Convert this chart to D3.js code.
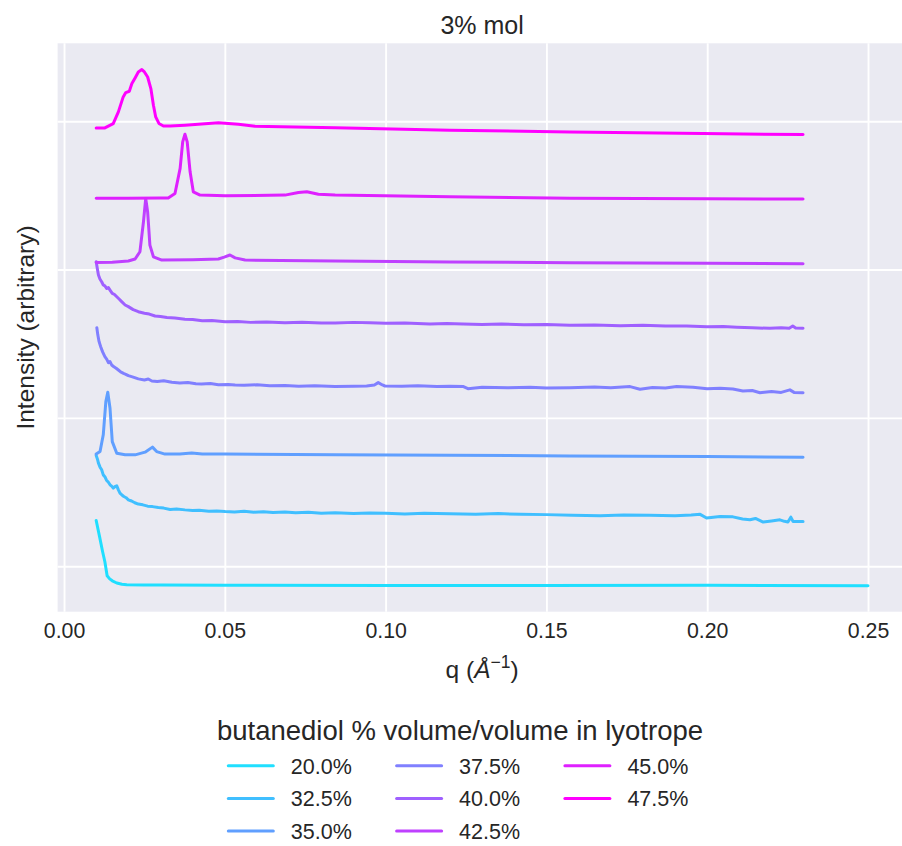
<!DOCTYPE html>
<html>
<head>
<meta charset="utf-8">
<script src="https://cdn.jsdelivr.net/npm/d3@7"></script>
<style>
  body { margin: 0; background: white; }
  text { font-family: "Liberation Sans", Arial, sans-serif; fill: #262626; }
</style>
</head>
<body>
<div id="container"></div>
<script>
let w = 902;
let h = 846;

// legend labels (butanediol % v/v)
let seriesLabels = ["20.0%", "32.5%", "35.0%", "37.5%", "40.0%", "42.5%", "45.0%", "47.5%"];
let xTicks = [0.00, 0.05, 0.10, 0.15, 0.20, 0.25];
let yTicks = [0, 1, 2, 3];

// [q, intensity (arbitrary, offset)]
let s200 = [[0.0100,0.308],[0.0110,0.205],[0.0120,0.098],[0.0127,0.030],[0.0134,-0.064],[0.0142,-0.085],[0.0150,-0.098],[0.0164,-0.113],[0.0180,-0.121],[0.0195,-0.125],[0.0250,-0.127],[0.0300,-0.127],[0.0500,-0.128],[0.1000,-0.129],[0.1500,-0.129],[0.2000,-0.128],[0.2500,-0.131]];

let s325 = [[0.0100,0.747],[0.0104,0.722],[0.0107,0.695],[0.0112,0.668],[0.0117,0.650],[0.0122,0.616],[0.0127,0.604],[0.0132,0.580],[0.0138,0.566],[0.0143,0.549],[0.0148,0.540],[0.0153,0.527],[0.0158,0.536],[0.0164,0.542],[0.0169,0.515],[0.0174,0.493],[0.0180,0.480],[0.0186,0.470],[0.0193,0.462],[0.0200,0.448],[0.0210,0.440],[0.0220,0.428],[0.0231,0.419],[0.0245,0.414],[0.0260,0.405],[0.0275,0.402],[0.0293,0.396],[0.0310,0.392],[0.0330,0.383],[0.0350,0.386],[0.0376,0.380],[0.0400,0.376],[0.0420,0.377],[0.0450,0.371],[0.0475,0.373],[0.0501,0.369],[0.0530,0.366],[0.0560,0.370],[0.0590,0.364],[0.0620,0.368],[0.0650,0.362],[0.0687,0.365],[0.0720,0.360],[0.0760,0.364],[0.0800,0.358],[0.0843,0.360],[0.0900,0.356],[0.0950,0.359],[0.1000,0.357],[0.1060,0.353],[0.1120,0.357],[0.1200,0.354],[0.1280,0.351],[0.1350,0.355],[0.1420,0.350],[0.1500,0.348],[0.1580,0.344],[0.1667,0.340],[0.1740,0.345],[0.1820,0.343],[0.1900,0.341],[0.1950,0.345],[0.1978,0.350],[0.1998,0.325],[0.2040,0.335],[0.2080,0.333],[0.2110,0.318],[0.2133,0.313],[0.2150,0.322],[0.2174,0.298],[0.2200,0.305],[0.2226,0.313],[0.2240,0.303],[0.2251,0.298],[0.2260,0.331],[0.2267,0.302],[0.2298,0.302]];

let s350 = [[0.0100,0.756],[0.0112,0.773],[0.0122,0.886],[0.0130,1.110],[0.0136,1.173],[0.0143,1.065],[0.0150,0.840],[0.0164,0.762],[0.0190,0.752],[0.0221,0.751],[0.0252,0.769],[0.0275,0.803],[0.0288,0.773],[0.0314,0.756],[0.0360,0.757],[0.0397,0.764],[0.0430,0.757],[0.0501,0.756],[0.0843,0.751],[0.1200,0.748],[0.1573,0.744],[0.2000,0.740],[0.2298,0.735]];

let s375 = [[0.0102,1.608],[0.0105,1.560],[0.0109,1.514],[0.0114,1.480],[0.0120,1.445],[0.0127,1.413],[0.0133,1.395],[0.0138,1.372],[0.0143,1.380],[0.0148,1.357],[0.0155,1.345],[0.0162,1.335],[0.0169,1.323],[0.0176,1.310],[0.0185,1.300],[0.0192,1.294],[0.0200,1.285],[0.0215,1.275],[0.0231,1.263],[0.0250,1.256],[0.0262,1.262],[0.0273,1.249],[0.0290,1.245],[0.0310,1.250],[0.0335,1.240],[0.0360,1.236],[0.0385,1.238],[0.0410,1.230],[0.0428,1.229],[0.0455,1.232],[0.0480,1.224],[0.0510,1.226],[0.0532,1.222],[0.0560,1.220],[0.0600,1.223],[0.0640,1.216],[0.0687,1.218],[0.0730,1.214],[0.0780,1.217],[0.0843,1.211],[0.0900,1.214],[0.0941,1.215],[0.0965,1.222],[0.0977,1.238],[0.0990,1.222],[0.0998,1.215],[0.1050,1.213],[0.1100,1.216],[0.1160,1.211],[0.1200,1.214],[0.1242,1.211],[0.1256,1.197],[0.1300,1.206],[0.1380,1.203],[0.1450,1.207],[0.1500,1.202],[0.1573,1.204],[0.1650,1.208],[0.1700,1.204],[0.1760,1.211],[0.1791,1.193],[0.1830,1.205],[0.1870,1.202],[0.1905,1.211],[0.1956,1.207],[0.2000,1.197],[0.2040,1.200],[0.2080,1.195],[0.2111,1.182],[0.2140,1.185],[0.2164,1.170],[0.2200,1.178],[0.2230,1.172],[0.2257,1.189],[0.2270,1.172],[0.2298,1.170]];

let s400 = [[0.0100,2.053],[0.0104,2.000],[0.0107,1.963],[0.0112,1.935],[0.0117,1.918],[0.0122,1.896],[0.0127,1.890],[0.0133,1.872],[0.0138,1.878],[0.0143,1.862],[0.0150,1.840],[0.0157,1.832],[0.0164,1.817],[0.0172,1.800],[0.0180,1.782],[0.0190,1.761],[0.0200,1.750],[0.0215,1.730],[0.0231,1.716],[0.0250,1.706],[0.0265,1.700],[0.0283,1.687],[0.0300,1.684],[0.0320,1.677],[0.0345,1.673],[0.0376,1.665],[0.0400,1.664],[0.0430,1.655],[0.0460,1.656],[0.0501,1.648],[0.0540,1.650],[0.0580,1.644],[0.0630,1.647],[0.0687,1.642],[0.0740,1.645],[0.0800,1.639],[0.0843,1.640],[0.0900,1.644],[0.0951,1.642],[0.1000,1.638],[0.1060,1.640],[0.1138,1.633],[0.1190,1.636],[0.1241,1.633],[0.1300,1.630],[0.1360,1.633],[0.1430,1.628],[0.1500,1.630],[0.1573,1.625],[0.1650,1.627],[0.1730,1.622],[0.1800,1.624],[0.1870,1.619],[0.1936,1.620],[0.2000,1.615],[0.2050,1.616],[0.2092,1.611],[0.2140,1.607],[0.2195,1.604],[0.2230,1.608],[0.2255,1.605],[0.2266,1.620],[0.2275,1.606],[0.2298,1.604]];

let s425 = [[0.0100,2.048],[0.0150,2.050],[0.0200,2.058],[0.0221,2.071],[0.0236,2.120],[0.0247,2.322],[0.0254,2.479],[0.0260,2.389],[0.0267,2.165],[0.0278,2.086],[0.0304,2.064],[0.0400,2.066],[0.0480,2.071],[0.0498,2.084],[0.0516,2.098],[0.0532,2.079],[0.0563,2.064],[0.0843,2.057],[0.1200,2.051],[0.1573,2.046],[0.2000,2.042],[0.2298,2.039]];

let s450 = [[0.0100,2.480],[0.0200,2.481],[0.0300,2.482],[0.0324,2.483],[0.0345,2.513],[0.0361,2.682],[0.0369,2.861],[0.0376,2.912],[0.0383,2.861],[0.0392,2.659],[0.0402,2.524],[0.0423,2.502],[0.0501,2.497],[0.0687,2.502],[0.0729,2.520],[0.0755,2.524],[0.0791,2.508],[0.0843,2.502],[0.1200,2.491],[0.1573,2.481],[0.2000,2.478],[0.2298,2.475]];

let s475 = [[0.0100,2.955],[0.0127,2.955],[0.0153,2.984],[0.0169,3.063],[0.0184,3.164],[0.0192,3.193],[0.0203,3.202],[0.0211,3.254],[0.0221,3.292],[0.0231,3.332],[0.0242,3.348],[0.0250,3.332],[0.0260,3.298],[0.0270,3.220],[0.0278,3.108],[0.0285,3.029],[0.0295,2.985],[0.0309,2.968],[0.0330,2.968],[0.0376,2.973],[0.0480,2.989],[0.0542,2.980],[0.0594,2.966],[0.0843,2.956],[0.1200,2.939],[0.1573,2.928],[0.1987,2.917],[0.2298,2.910]];

let allSeries = [s200, s325, s350, s375, s400, s425, s450, s475];

// matplotlib "cool" colormap sampled at (i+1)/8
function cool(t){
  return d3.rgb(255*t, 255*(1-t), 255).formatHex();
}

let viz = d3.select("#container")
  .append("svg")
    .attr("width", w)
    .attr("height", h)
    .style("background-color", "white")
;

let plotLeft = 57.6, plotRight = 906.6, plotTop = 43.3, plotBottom = 611.7;

let xScale = d3.scaleLinear().domain([-0.002, 0.262]).range([plotLeft, plotRight]);
let yScale = d3.scaleLinear().domain([-0.3064, 3.5253]).range([plotBottom, plotTop]);

viz.append("rect") // plot background
  .attr("x", plotLeft)
  .attr("y", plotTop)
  .attr("width", plotRight-plotLeft)
  .attr("height", plotBottom-plotTop)
  .attr("fill", "#EAEAF2")
;

// grid via axes, no domain line, white lines
let xAxis = d3.axisBottom(xScale).tickValues(xTicks).tickSize(-(plotBottom-plotTop)).tickFormat(d3.format(".2f")).tickPadding(11);
let yAxis = d3.axisLeft(yScale).tickValues(yTicks).tickSize(-(plotRight-plotLeft)).tickFormat("");

let gx = viz.append("g")
  .attr("transform", "translate(0,"+plotBottom+")")
  .call(xAxis);
let gy = viz.append("g")
  .attr("transform", "translate("+plotLeft+",0)")
  .call(yAxis);

[gx, gy].forEach(function(g){
  g.select(".domain").remove();
  g.selectAll(".tick line").attr("stroke", "white").attr("stroke-width", 1.9);
  g.selectAll(".tick text")
    .attr("fill", "#262626")
    .style("font-family", "'Liberation Sans', Arial, sans-serif")
    .attr("font-size", 21.3);
});

let clip = viz.append("clipPath").attr("id", "plotclip");
clip.append("rect").attr("x", plotLeft).attr("y", plotTop).attr("width", plotRight-plotLeft).attr("height", plotBottom-plotTop);

let line = d3.line()
  .x(function(d){ return xScale(d[0]); })
  .y(function(d){ return yScale(d[1]); });

viz.append("g")
  .attr("clip-path", "url(#plotclip)")
  .selectAll(".curve").data(allSeries).enter()
  .append("path")
    .attr("class", "curve")
    .attr("d", line)
    .attr("fill", "none")
    .attr("stroke", function(d, i){ return cool((i+1)/8); })
    .attr("stroke-width", 3)
    .attr("stroke-linejoin", "round")
    .attr("stroke-linecap", "round")
;

viz.append("text") // title
  .text("3% mol")
  .attr("x", (plotLeft+plotRight)/2)
  .attr("y", 34)
  .attr("text-anchor", "middle")
  .attr("font-size", 25)
;

let xlab = viz.append("text") // x label
  .attr("x", (plotLeft+plotRight)/2)
  .attr("y", 678)
  .attr("text-anchor", "middle")
  .attr("font-size", 24.5);
xlab.append("tspan").text("q (");
xlab.append("tspan").text("Å").attr("font-style", "italic");
xlab.append("tspan").text("\u22121").attr("font-size", 17.5).attr("dy", -10);
xlab.append("tspan").text(")").attr("dy", 10);

viz.append("text") // y label
  .text("Intensity (arbitrary)")
  .attr("transform", "translate(34,"+((plotTop+plotBottom)/2)+") rotate(-90)")
  .attr("text-anchor", "middle")
  .attr("font-size", 24.5)
;

// legend
viz.append("text")
  .text("butanediol % volume/volume in lyotrope")
  .attr("x", 460)
  .attr("y", 740)
  .attr("text-anchor", "middle")
  .attr("font-size", 27.5)
;

let legend = viz.selectAll(".legenditem").data(seriesLabels).enter()
  .append("g")
    .attr("class", "legenditem")
    .attr("transform", function(d, i){
      let col = Math.floor(i/3);
      let row = i%3;
      return "translate("+(228.3+col*168.3)+","+(765.7+row*32.7)+")";
    })
;
legend.append("line")
  .attr("x1", 0)
  .attr("x2", 45)
  .attr("y1", 0)
  .attr("y2", 0)
  .attr("stroke", function(d, i){ return cool((i+1)/8); })
  .attr("stroke-width", 3)
  .attr("stroke-linecap", "round")
;
legend.append("text")
  .text(function(d){ return d; })
  .attr("x", 62.5)
  .attr("y", 8)
  .attr("font-size", 21.5)
;
</script>
</body>
</html>
